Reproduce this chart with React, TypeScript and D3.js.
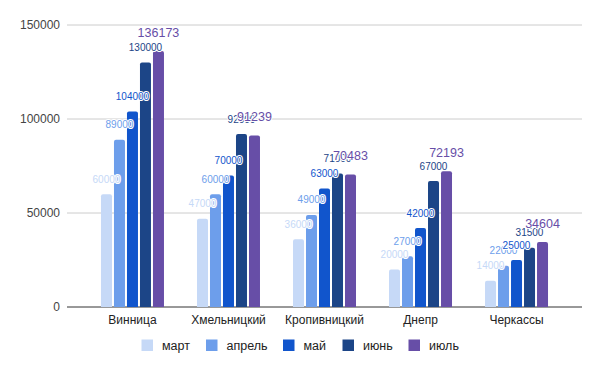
import React from "react";
import * as d3 from "d3";

const categories = ["Винница", "Хмельницкий", "Кропивницкий", "Днепр", "Черкассы"];
const seriesNames = ["март", "апрель", "май", "июнь", "июль"];
const mart = [60000, 47000, 36000, 20000, 14000];
const aprel = [89000, 60000, 49000, 27000, 22000];
const mai = [104000, 70000, 63000, 42000, 25000];
const iyun = [130000, 92000, 71000, 67000, 31500];
const iyul = [136173, 91239, 70483, 72193, 34604];
const yTicks = [0, 50000, 100000, 150000];
const colors = ["#c6d9f7", "#6d9eeb", "#1155cc", "#1c4587", "#674ea7"];

const seriesValues = [mart, aprel, mai, iyun, iyul];

const W = 600;
const H = 371;
const left = 67;
const right = 582;
const top = 25;
const bottom = 307;
const FONT = "Arial, 'Liberation Sans', sans-serif";

function barPath(x: number, y: number, w: number, h: number, r: number) {
  const rr = Math.min(r, h, w / 2);
  return `M${x},${y + h}V${y + rr}Q${x},${y} ${x + rr},${y}H${x + w - rr}Q${x + w},${y} ${x + w},${y + rr}V${y + h}Z`;
}

export default function App() {
  const x0 = d3.scaleBand<string>().domain(categories).range([left, right]).paddingInner(0).paddingOuter(0.182);
  const groupW = 63;
  const x1 = d3.scaleBand<string>().domain(seriesNames).range([0, groupW]).paddingInner(0.154).paddingOuter(0);
  const y = d3.scaleLinear().domain([0, 150000]).range([bottom, top]);

  const legendX = [141.5, 206, 283, 342.5, 408.5];

  return (
    <svg width={W} height={H} style={{ position: "absolute", left: 0, top: 0 }} fontFamily={FONT}>
      <rect width={W} height={H} fill="#fff" />
      {yTicks.map((t) => (
        <g key={t}>
          <line x1={left} x2={right} y1={y(t)} y2={y(t)} stroke={t === 0 ? "#333" : "#ccc"} strokeWidth={1} />
          <text x={60} y={y(t)} dy="0.35em" textAnchor="end" fontSize={12} fill="#444">
            {t}
          </text>
        </g>
      ))}
      {categories.map((c, ci) => {
        const gx = (x0(c) as number) + x0.bandwidth() / 2 - groupW / 2;
        return (
          <g key={c}>
            {seriesNames.map((s, si) => {
              const v = seriesValues[si][ci];
              const bx = gx + (x1(s) as number);
              const by = y(v);
              return (
                <path key={s} d={barPath(bx, by, x1.bandwidth(), bottom - by, 2)} fill={colors[si]} />
              );
            })}
            <text x={gx + groupW / 2} y={324} textAnchor="middle" fontSize={12} fill="#222">
              {c}
            </text>
          </g>
        );
      })}
      {categories.map((c, ci) => {
        const gx = (x0(c) as number) + x0.bandwidth() / 2 - groupW / 2;
        return seriesNames.map((s, si) => {
          const v = seriesValues[si][ci];
          const bx = gx + (x1(s) as number) + x1.bandwidth() / 2;
          const fs = si === 4 ? 12.5 : 10;
          return (
            <text
              key={c + s}
              x={bx}
              y={y(v) - fs - 1.5}
              textAnchor="middle"
              fontSize={fs}
              fill={colors[si]}
              stroke="#fff"
              strokeWidth={2}
              strokeLinejoin="round"
              paintOrder="stroke"
            >
              {v}
            </text>
          );
        });
      })}
      {seriesNames.map((s, si) => (
        <g key={s}>
          <rect x={legendX[si]} y={339.5} width={11.5} height={11.5} fill={colors[si]} />
          <text x={legendX[si] + 20.5} y={345.5} dy="0.35em" fontSize={12.5} fill="#222">
            {s}
          </text>
        </g>
      ))}
    </svg>
  );
}
